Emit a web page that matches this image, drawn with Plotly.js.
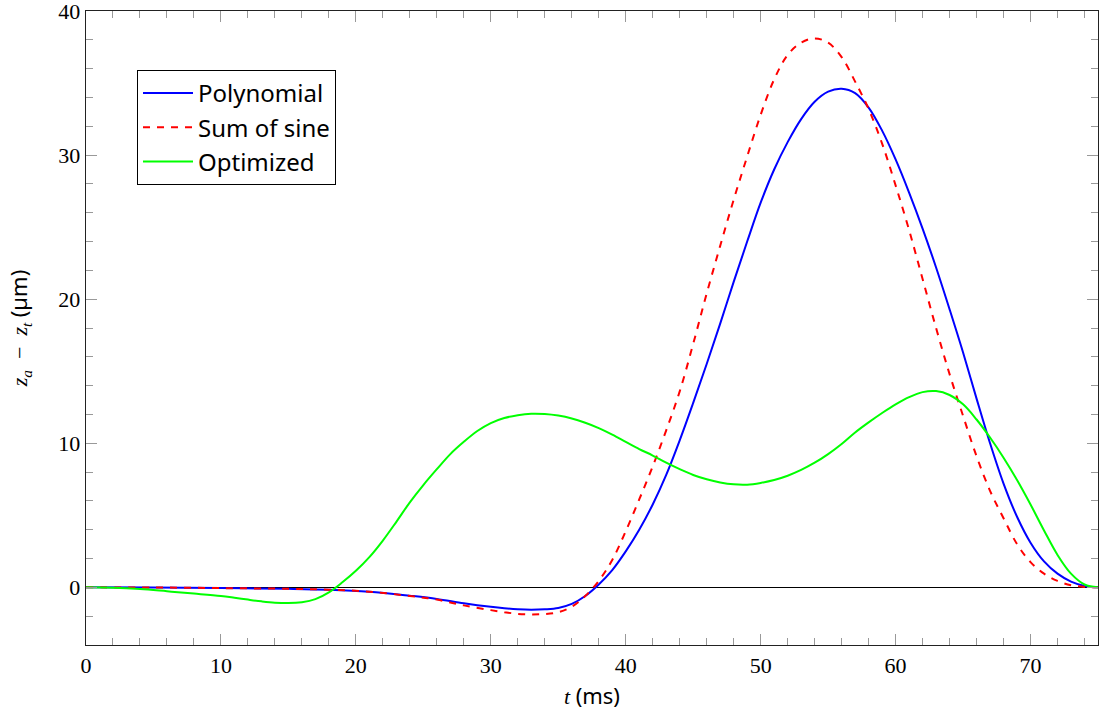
<!DOCTYPE html>
<html>
<head>
<meta charset="utf-8">
<script src="https://cdn.plot.ly/plotly-3.0.1.min.js"></script>
<style>html,body{margin:0;padding:0;background:#fff;}#chart{width:1099px;height:719px;}</style>
</head>
<body>
<div id="chart"></div>
<script>
// Polynomial
const polyT = [0,5,10,15,18,21,24,26,28,30,31,32,33,34,35,36,37,38,39,40,41,42,43,44,45,46,47,48,49,50,51,52,53,54,55,56,57,58,59,60,61,62,63,64,65,66,67,68,69,70,71,72,73,74,75];
const polyV = [0,-0.01,-0.05,-0.1,-0.16,-0.3,-0.58,-0.8,-1.1,-1.35,-1.45,-1.52,-1.55,-1.52,-1.43,-1.15,-0.6,0.2,1.2,2.5,4.0,5.75,7.8,10.2,12.8,15.5,18.3,21.2,24.0,26.7,29.0,30.9,32.5,33.7,34.4,34.6,34.3,33.3,31.7,29.7,27.4,24.9,22.2,19.3,16.3,13.1,10.0,7.2,4.9,3.1,1.8,0.95,0.4,0.1,0];
// Sum of sine
const sineT = [0,5,10,15,18,21,24,26,28,30,31,32,33,34,35,36,37,38,39,40,41,42,43,44,45,46,47,48,49,50,51,52,53,54,55,56,57,58,59,60,61,62,63,64,65,66,67,68,69,70,71,72,73,74,75];
const sineV = [0,-0.01,-0.05,-0.1,-0.16,-0.3,-0.6,-0.85,-1.25,-1.58,-1.72,-1.84,-1.88,-1.85,-1.72,-1.35,-0.6,0.45,1.9,3.9,6.1,8.4,10.9,13.6,16.9,20.4,23.7,26.9,29.9,32.8,35.25,36.95,37.8,38.1,37.8,36.8,35.1,33.2,30.8,27.9,24.8,21.4,18.0,14.8,11.9,9.1,6.7,4.8,3.0,1.75,0.95,0.45,0.15,0.03,0];
// Optimized
const optT = [0,2,4,6,8,10,11,12,13,14,15,16,17,18,19,20,21,22,23,24,25,26,27,28,29,30,31,32,33,34,35,36,37,38,39,40,41,42,43,44,45,46,47,48,49,50,51,52,53,54,55,56,57,58,59,60,61,62,63,64,65,66,67,68,69,70,71,72,73,74,75];
const optV = [0,-0.03,-0.12,-0.27,-0.43,-0.6,-0.72,-0.85,-0.97,-1.06,-1.09,-1.03,-0.82,-0.35,0.35,1.15,2.1,3.25,4.55,5.9,7.1,8.2,9.25,10.1,10.85,11.4,11.75,11.95,12.05,12.03,11.92,11.72,11.42,11.05,10.6,10.1,9.6,9.15,8.65,8.2,7.8,7.5,7.28,7.15,7.13,7.25,7.45,7.75,8.15,8.65,9.25,9.95,10.75,11.45,12.1,12.7,13.2,13.55,13.62,13.35,12.7,11.65,10.4,9.0,7.45,5.75,3.95,2.25,0.95,0.2,0];

const names = ['Polynomial','Sum of sine','Optimized'];
const data = [
  {x: polyT, y: polyV, name: names[0], mode:'lines', line:{color:'#0000ff', width:2, shape:'spline', smoothing:1}},
  {x: sineT, y: sineV, name: names[1], mode:'lines', line:{color:'#ff0000', width:2, dash:'7px,7px', shape:'spline', smoothing:1}},
  {x: optT, y: optV, name: names[2], mode:'lines', line:{color:'#00ff00', width:2, shape:'spline', smoothing:1}}
];

const tickFont = {family:'"Liberation Serif", "DejaVu Serif", serif', size:22, color:'#000'};
const layout = {
  width:1099, height:719,
  margin:{l:86, r:1, t:11, b:74},
  paper_bgcolor:'#fff', plot_bgcolor:'#fff',
  showlegend:true,
  legend:{x:0.0504, y:0.907, xanchor:'left', yanchor:'top', bordercolor:'#000', borderwidth:1, bgcolor:'#fff',
          itemwidth:50, entrywidth:200, font:{family:'"Noto Sans", "Open Sans", sans-serif', size:24, color:'#000'}, tracegroupgap:0},
  xaxis:{range:[0,75], showgrid:false, zeroline:false, showline:true, linecolor:'#222', linewidth:1.3, mirror:'allticks',
         ticks:'inside', ticklen:11, tickcolor:'#999', tickwidth:1, dtick:10, tick0:0, ticklabeloverflow:'allow',
         minor:{dtick:2, ticks:'inside', ticklen:7, tickcolor:'#999', tickwidth:1, showgrid:false},
         tickfont:tickFont,
         title:{text:'<i>t</i> <span style="font-family:Noto Sans">(ms)</span>', font:{family:'"Liberation Serif", serif', size:22, color:'#000'}, standoff:12}},
  yaxis:{range:[-4,40], showgrid:false, zeroline:true, zerolinecolor:'#000', zerolinewidth:1, showline:true, linecolor:'#222', linewidth:1.3, mirror:'allticks',
         ticks:'inside', ticklen:11, tickcolor:'#999', tickwidth:1, dtick:10, tick0:0, ticklabeloverflow:'allow',
         minor:{dtick:2, ticks:'inside', ticklen:7, tickcolor:'#999', tickwidth:1, showgrid:false},
         tickfont:tickFont,
         title:{text:'<i>z</i><sub><i>a</i></sub>  −  <i>z</i><sub><i>t</i></sub> <span style="font-family:Noto Sans">(µm)</span>', font:{family:'"Liberation Serif", serif', size:22, color:'#000'}, standoff:24}}
};
Plotly.newPlot('chart', data, layout, {displayModeBar:false, staticPlot:true});
</script>
</body>
</html>
